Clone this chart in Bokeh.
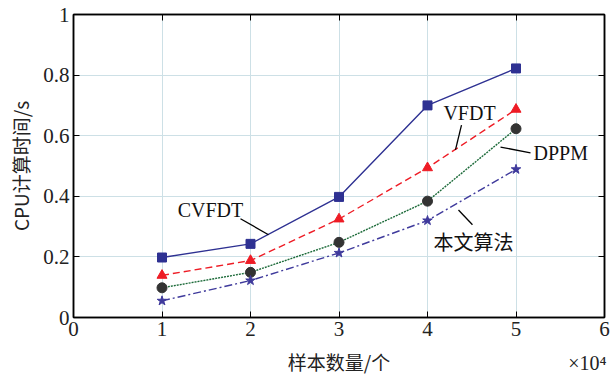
from bokeh.plotting import figure
from bokeh.models import FixedTicker, LinearAxis, Range1d, Label, Title
from bokeh.embed import file_html
from bokeh.resources import INLINE

x = [1, 2, 3, 4, 5]
cvfdt = [0.198, 0.243, 0.398, 0.700, 0.822]
vfdt = [0.139, 0.188, 0.325, 0.494, 0.687]
dppm = [0.098, 0.149, 0.248, 0.384, 0.623]
ours = [0.055, 0.122, 0.213, 0.320, 0.489]
x_ticks = [0, 1, 2, 3, 4, 5, 6]
y_ticks = [0, 0.2, 0.4, 0.6, 0.8, 1]

SERIF = "Liberation Serif"
CJK = "Noto Sans CJK SC"

p = figure(width=612, height=377, output_backend="svg", toolbar_location=None,
           x_range=Range1d(0, 6), y_range=Range1d(0, 1),
           min_border_left=73, min_border_right=8, min_border_top=14, min_border_bottom=59)
p.outline_line_color = "black"
p.outline_line_width = 1.5
p.background_fill_color = "white"

for ax in [p.xaxis[0], p.yaxis[0]]:
    ax.major_tick_in = 6
    ax.major_tick_out = 0
    ax.minor_tick_line_color = None
    ax.axis_line_width = 1.5
    ax.major_label_text_font = SERIF
    ax.major_label_text_font_size = "21px"
    ax.major_label_text_color = "#222222"
    ax.axis_label_text_font = CJK
    ax.axis_label_text_font_size = "19px"
    ax.axis_label_text_font_style = "normal"
    ax.axis_label_text_color = "#222222"

p.xaxis.ticker = FixedTicker(ticks=x_ticks)
p.yaxis.ticker = FixedTicker(ticks=y_ticks)
p.yaxis.major_label_overrides = {0: "0", 1: "1"}
p.xaxis.axis_label = "样本数量/个"
p.yaxis.axis_label = "CPU计算时间/s"
p.xaxis.major_label_standoff = 4
p.yaxis.major_label_standoff = 4
p.xaxis.axis_label_standoff = 9
p.yaxis.axis_label_standoff = 6

for loc, ticks in [("right", y_ticks), ("above", x_ticks)]:
    ax = LinearAxis(ticker=FixedTicker(ticks=ticks), major_tick_in=6, major_tick_out=0,
                    minor_tick_line_color=None,
                    major_label_overrides={t: "" for t in ticks},
                    axis_line_width=1.5)
    p.add_layout(ax, loc)

p.xgrid.grid_line_color = "#cde0e6"
p.ygrid.grid_line_color = "#cde0e6"
p.xgrid.ticker = FixedTicker(ticks=x_ticks)
p.ygrid.ticker = FixedTicker(ticks=y_ticks)

blue = "#2e3192"
red = "#ee1c25"
green = "#1d6b3a"
purple = "#3f3a9c"

p.line(x, cvfdt, line_color=blue, line_width=1.4)
p.scatter(x, cvfdt, marker="square", size=9, color=blue)

p.line(x, vfdt, line_color=red, line_width=1.4, line_dash="7 4")
p.scatter(x, vfdt, marker="triangle", size=10, color=red)

p.line(x, dppm, line_color=green, line_width=1.4, line_dash="2 1")
p.scatter(x, dppm, marker="circle", size=10, color="#333333")

p.line(x, ours, line_color=purple, line_width=1.4, line_dash="8 3 2 3")
p.scatter(x, ours, marker="star", size=10, color=purple)

# leader lines
lx0 = [1.887, 4.384, 4.825, 4.350]
ly0 = [0.326, 0.635, 0.5625, 0.355]
lx1 = [2.203, 4.316, 5.164, 4.508]
ly1 = [0.273, 0.553, 0.543, 0.306]
p.segment(lx0, ly0, lx1, ly1, line_color="black", line_width=1.3)

anns = [("CVFDT", 1.548, 0.355, "center"), ("VFDT", 4.475, 0.674, "center"),
        ("DPPM", 5.198, 0.543, "left")]
for t, ax_, ay, al in anns:
    p.add_layout(Label(x=ax_, y=ay, text=t, text_font=SERIF, text_font_size="20px",
                       text_align=al, text_baseline="middle", text_color="#111111"))
p.add_layout(Label(x=4.52, y=0.25, text="本文算法", text_font=CJK, text_font_size="20px",
                   text_align="center", text_baseline="middle", text_color="#111111"))

p.add_layout(Title(text="×10⁴", align="right", vertical_align="top", offset=-2,
                   text_font=SERIF, text_font_size="20px",
                   text_font_style="normal", text_color="#222222", standoff=-52),
             "below")

open("out.html", "w").write(file_html(p, INLINE))
